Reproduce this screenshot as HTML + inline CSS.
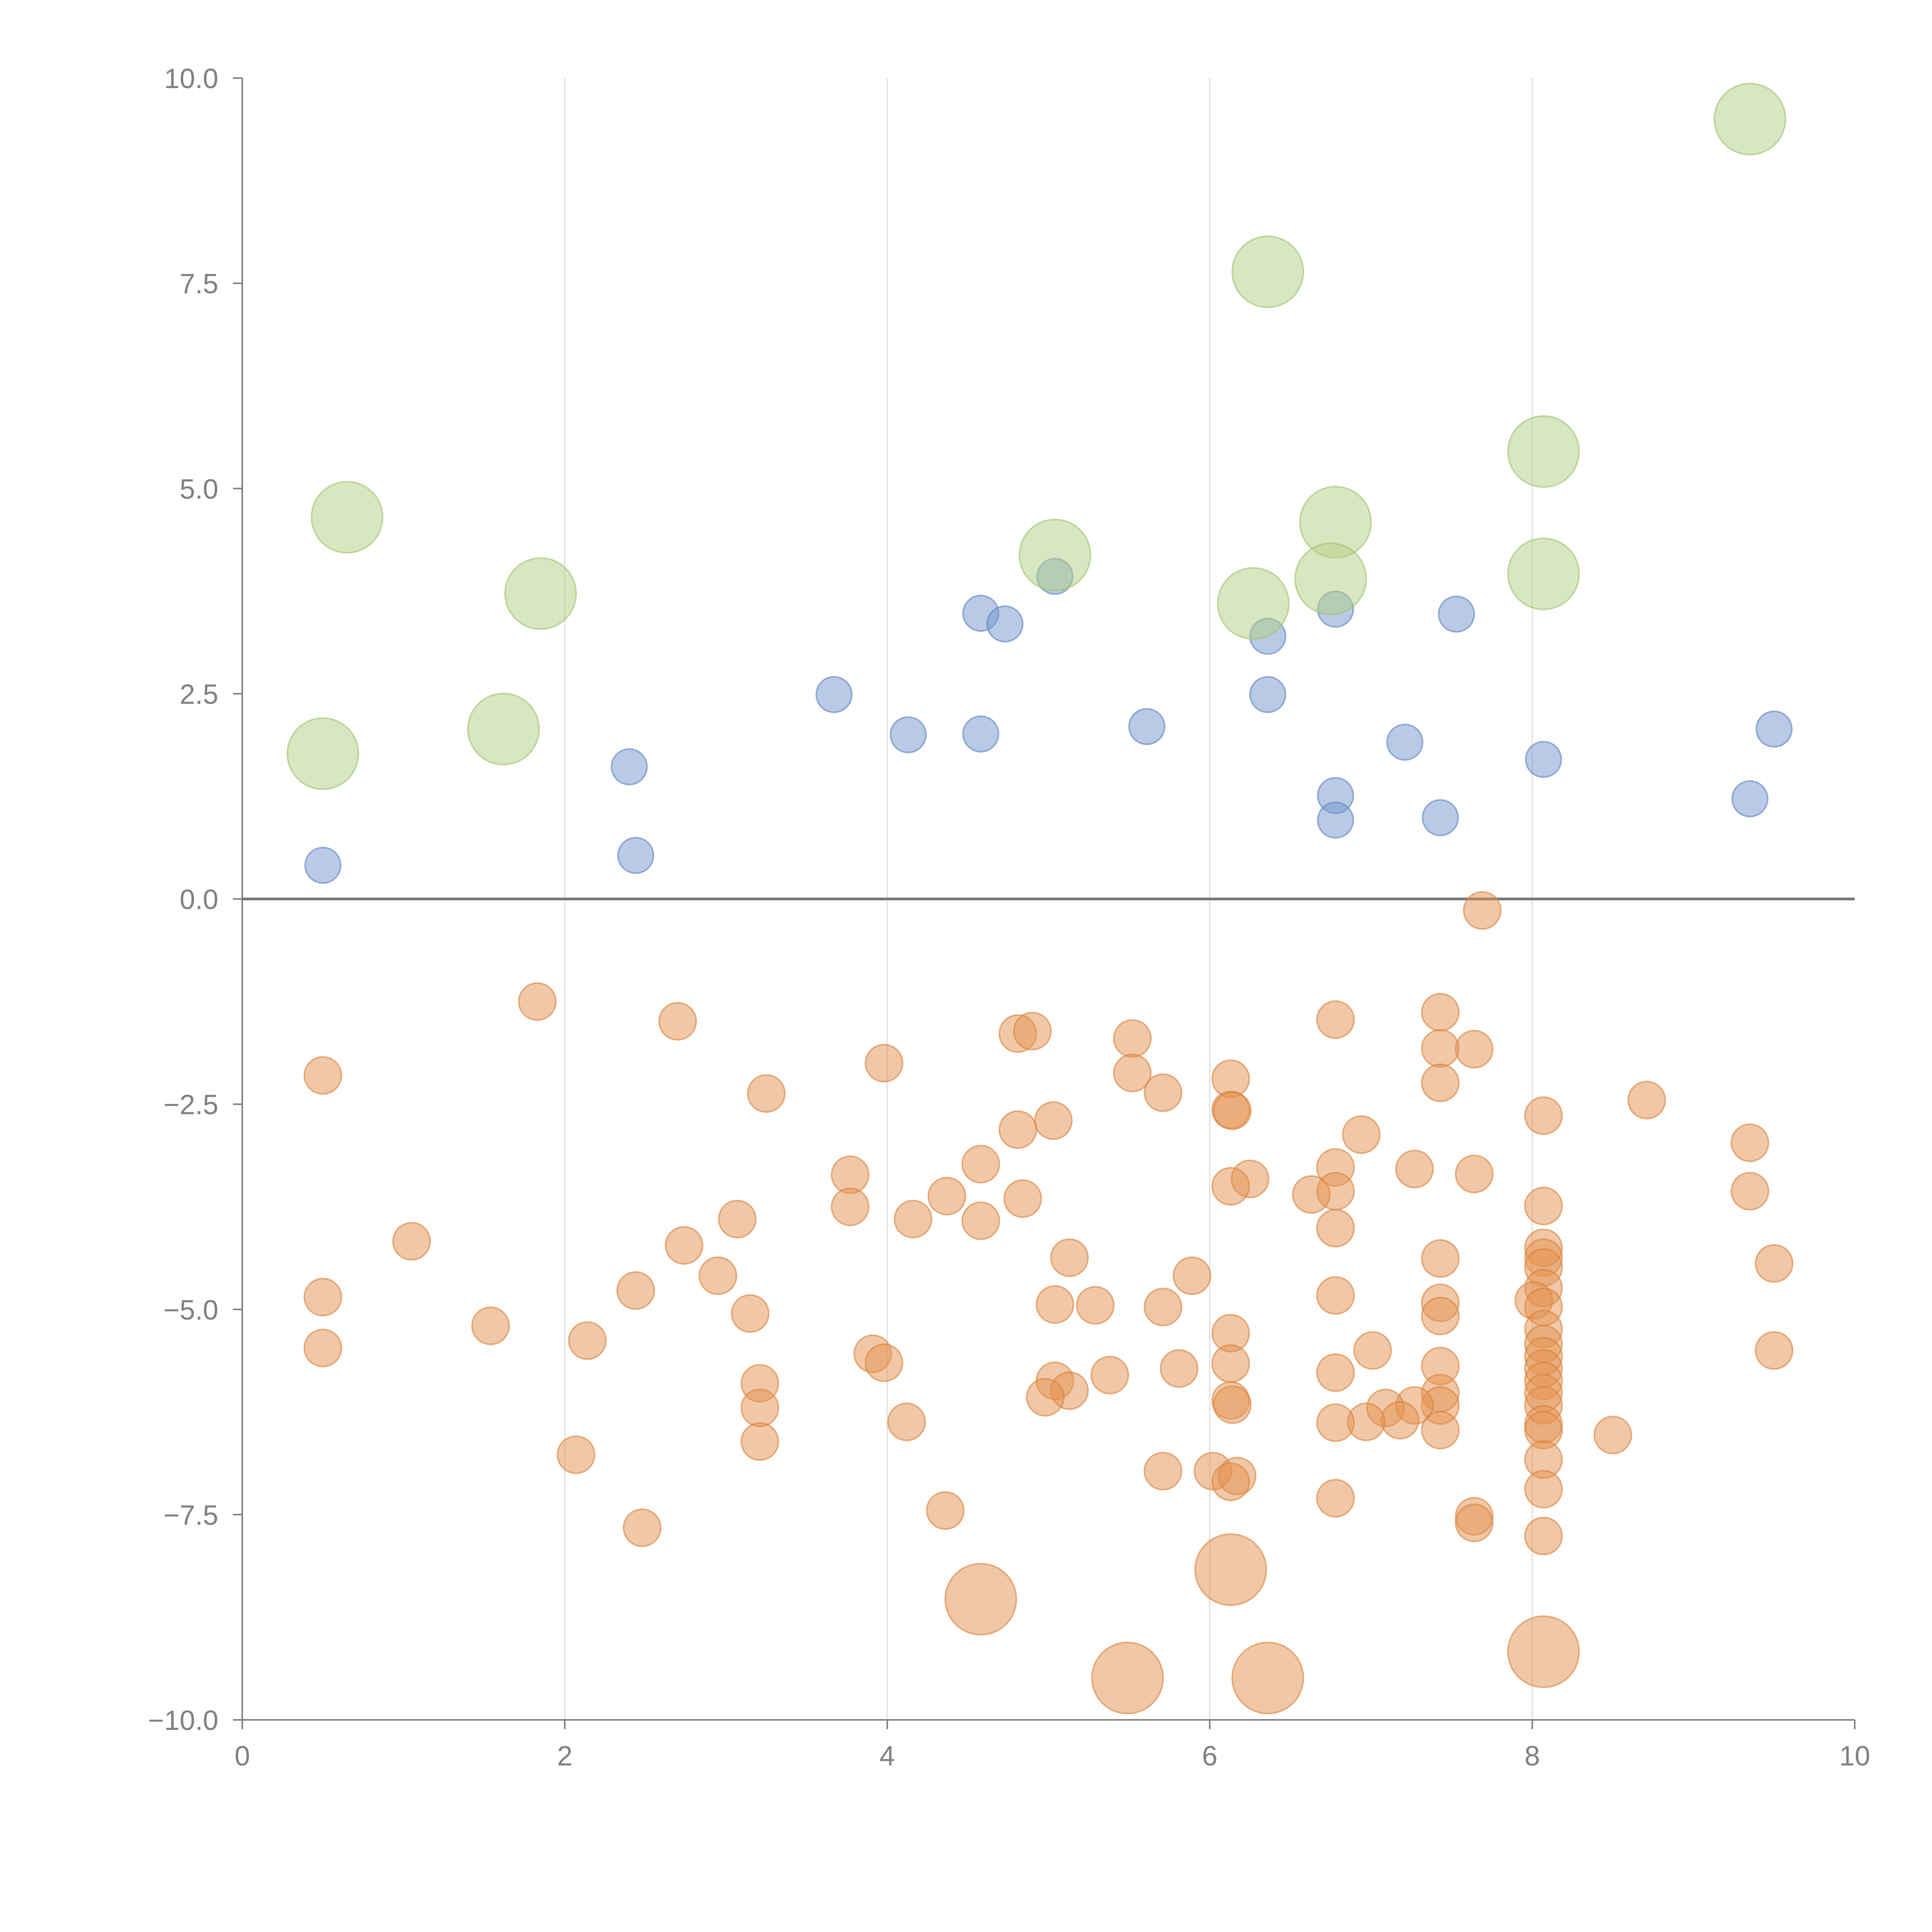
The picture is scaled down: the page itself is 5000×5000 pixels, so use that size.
<!DOCTYPE html>
<html><head><meta charset="utf-8"><style>
html,body{margin:0;padding:0;background:#fff}
svg{display:block}
text{font-family:"Liberation Sans",sans-serif;fill:#808080}
</style></head><body>
<svg id="chart" width="5000" height="5000" viewBox="0 0 5000 5000" xmlns="http://www.w3.org/2000/svg">
<g id="grid"></g>
<g id="axes"></g>
<g id="marks"></g>
</svg>
<script>
const xTicks = [0,2,4,6,8,10];
const xTickLabels = ["0","2","4","6","8","10"];
const yTicks = [-10,-7.5,-5,-2.5,0,2.5,5,7.5,10];
const yTickLabels = ["\u221210.0","\u22127.5","\u22125.0","\u22122.5","0.0","2.5","5.0","7.5","10.0"];

const greenX = [0.50,0.65,1.62,1.85,5.04,6.36,6.27,6.78,6.75,8.07,8.07,9.35];
const greenY = [1.77,4.65,2.07,3.72,4.19,7.64,3.60,4.59,3.90,5.45,3.96,9.50];

const blueX = [0.50,2.40,2.44,3.67,4.13,4.58,4.73,4.58,5.04,5.61,6.36,6.36,6.78,6.78,6.78,7.21,7.43,7.53,8.07,9.35,9.50];
const blueY = [0.41,1.61,0.53,2.49,2.00,3.48,3.35,2.01,3.93,2.10,3.20,2.49,3.53,1.26,0.96,1.91,0.99,3.47,1.70,1.22,2.07];

const orangeBigX = [4.58,6.13,5.49,6.36,8.07];
const orangeBigY = [-8.53,-8.17,-9.49,-9.49,-9.17];

const orangeX = [7.69,1.83,2.70,0.50,3.98,3.25,4.81,4.90,5.52,5.52,5.71,6.13,6.13,6.14,6.78,7.43,7.43,7.64,7.43,8.71,8.07,6.94,5.03,4.81,9.35,4.58,3.77,6.78,7.27,7.64,6.25,6.13,6.78,6.63,9.35,4.37,4.84,3.77,3.07,4.16,4.58,8.07,6.78,1.05,2.74,8.07,8.07,8.07,7.43,5.13,9.50,5.89,2.95,8.07,6.78,0.50,2.44,8.01,8.07,5.04,5.29,5.71,7.43,7.43,3.15,8.07,1.54,2.14,6.13,8.07,0.50,9.50,7.01,3.91,3.98,6.13,8.07,7.43,8.07,5.81,5.38,6.78,8.07,3.21,5.04,5.13,8.07,7.43,4.98,6.13,6.14,8.07,7.43,3.21,7.27,7.09,7.18,4.12,6.97,6.78,8.07,8.07,7.43,8.50,3.21,2.07,8.07,5.71,6.02,6.17,6.13,8.07,6.78,4.36,7.64,7.64,2.48,8.07];
const orangeY = [-0.14,-1.25,-1.49,-2.15,-2.00,-2.37,-1.64,-1.61,-1.70,-2.12,-2.36,-2.19,-2.57,-2.58,-1.47,-1.38,-1.82,-1.83,-2.24,-2.45,-2.64,-2.87,-2.70,-2.81,-2.97,-3.23,-3.36,-3.27,-3.29,-3.35,-3.41,-3.50,-3.56,-3.60,-3.56,-3.62,-3.65,-3.75,-3.90,-3.90,-3.92,-3.74,-4.01,-4.17,-4.22,-4.25,-4.37,-4.49,-4.38,-4.37,-4.44,-4.59,-4.59,-4.74,-4.83,-4.85,-4.77,-4.89,-4.97,-4.94,-4.95,-4.97,-4.92,-5.08,-5.05,-5.24,-5.20,-5.38,-5.29,-5.42,-5.47,-5.50,-5.50,-5.54,-5.65,-5.66,-5.57,-5.69,-5.72,-5.72,-5.80,-5.77,-5.87,-5.90,-5.87,-5.99,-6.02,-6.02,-6.07,-6.11,-6.16,-6.17,-6.17,-6.20,-6.17,-6.20,-6.35,-6.37,-6.37,-6.38,-6.40,-6.47,-6.47,-6.53,-6.61,-6.77,-6.83,-6.97,-6.97,-7.03,-7.10,-7.19,-7.30,-7.45,-7.52,-7.60,-7.66,-7.76];

const NS = "http://www.w3.org/2000/svg";
const X0 = 627, X1 = 4800, YT = 202, YB = 4451;
function sx(v){ return X0 + (v - 0) / 10 * (X1 - X0); }
function sy(v){ return YB - (v + 10) / 20 * (YB - YT); }
function mk(tag, attrs, parent){
  const e = document.createElementNS(NS, tag);
  for (const k in attrs) e.setAttribute(k, attrs[k]);
  parent.appendChild(e);
  return e;
}
const grid = document.getElementById('grid');
const axes = document.getElementById('axes');
const marks = document.getElementById('marks');

xTicks.forEach((t, i) => {
  if (t > 0 && t < 10) {
    const g = mk('line', {x1:sx(t), x2:sx(t), y1:YT, y2:YB, stroke:'#dddddd', 'stroke-width':3}, grid);
    
    
  }
  const tk = mk('line', {x1:sx(t), x2:sx(t), y1:YB, y2:YB+24, stroke:'#808080', 'stroke-width':4}, axes);
  
  
  const lb = mk('text', {x:sx(t), y:YB+118, 'font-size':72, 'text-anchor':'middle'}, axes);
  lb.textContent = xTickLabels[i];
  
  
});
yTicks.forEach((t, i) => {
  const tk = mk('line', {x1:X0-24, x2:X0, y1:sy(t), y2:sy(t), stroke:'#808080', 'stroke-width':4}, axes);
  
  
  const lb = mk('text', {x:X0-62, y:sy(t)+26, 'font-size':72, 'text-anchor':'end'}, axes);
  lb.textContent = yTickLabels[i];
  
  
});
const ya = mk('line', {x1:X0, x2:X0, y1:YT, y2:YB, stroke:'#808080', 'stroke-width':4}, axes);


const xa = mk('line', {x1:X0, x2:X1, y1:YB, y2:YB, stroke:'#808080', 'stroke-width':4}, axes);


const zl = mk('line', {x1:X0, x2:X1, y1:sy(0), y2:sy(0), stroke:'#777777', 'stroke-width':7}, axes);



function series(xs, ys, r, fill, stroke, name){
  xs.forEach((v, i) => {
    const c = mk('circle', {cx:sx(v), cy:sy(ys[i]), r:r, fill:fill, 'fill-opacity':0.5, stroke:stroke, 'stroke-opacity':0.6, 'stroke-width':4}, marks);
    
    
  });
}
series(orangeX, orangeY, 48, '#e39150', '#d9803a', 'orange-point');
series(orangeBigX, orangeBigY, 92, '#e39150', '#d9803a', 'orange-large-point');
series(blueX, blueY, 46, '#7196cc', '#5b82c0', 'blue-point');
series(greenX, greenY, 92, '#b2cf83', '#9fc26a', 'green-point');
</script>
</body></html>
